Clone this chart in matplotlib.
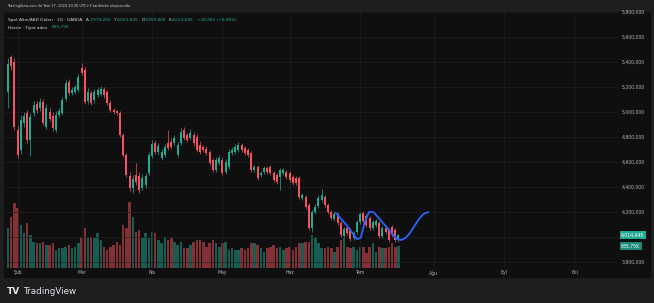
import matplotlib.pyplot as plt
from matplotlib.patches import Rectangle

# daily candles, prices in thousands (axis labels are shown x1000)
opens = [5160, 5440, 5400, 4856, 4696, 4912, 4992, 4776, 4992, 5064,
         5032, 5080, 4880, 5000, 4968, 4856, 4976, 4992, 5104, 5240,
         5152, 5160, 5176, 5352, 5336, 5088, 5152, 5096, 5136, 5144,
         5184, 5160, 5072, 5016, 5008, 4992, 4816, 4656, 4488, 4392,
         4496, 4488, 4392, 4416, 4512, 4648, 4752, 4680, 4632, 4656,
         4752, 4760, 4752, 4656, 4752, 4856, 4816, 4792, 4816, 4800,
         4736, 4720, 4704, 4680, 4616, 4536, 4592, 4616, 4520, 4560,
         4672, 4680, 4696, 4736, 4712, 4696, 4672, 4536, 4560, 4496,
         4520, 4552, 4560, 4512, 4496, 4480, 4512, 4520, 4512, 4480,
         4472, 4472, 4312, 4320, 4256, 4072, 4200, 4248, 4296, 4320,
         4256, 4200, 4144, 4184, 4112, 4008, 4072, 4056, 3992, 4040,
         4120, 4192, 4168, 4152, 4072, 4096, 4112, 4008, 4072, 4056,
         4080, 4056, 3979.265]
closes = [5384, 5368, 4880, 4656, 4936, 4968, 4776, 4960, 5056, 5016,
          5080, 4912, 5032, 4944, 4872, 4976, 5008, 5096, 5232, 5152,
          5176, 5200, 5280, 5312, 5080, 5160, 5072, 5160, 5176, 5184,
          5136, 5072, 5016, 5000, 4992, 4816, 4656, 4496, 4392, 4464,
          4440, 4376, 4472, 4488, 4656, 4744, 4680, 4728, 4680, 4720,
          4712, 4720, 4792, 4736, 4840, 4792, 4776, 4832, 4752, 4696,
          4680, 4696, 4672, 4592, 4536, 4616, 4632, 4512, 4600, 4680,
          4696, 4720, 4736, 4696, 4672, 4656, 4536, 4560, 4472, 4512,
          4552, 4520, 4512, 4456, 4440, 4536, 4536, 4480, 4456, 4432,
          4432, 4320, 4336, 4240, 4072, 4200, 4240, 4312, 4336, 4256,
          4200, 4152, 4184, 4112, 4016, 4064, 4032, 3984, 4032, 4120,
          4184, 4128, 4096, 4072, 4120, 4128, 4008, 4072, 4040, 3976,
          4016, 3975.68, 4014.645]
highs = [5432, 5456, 5432, 4896, 4976, 5000, 5016, 4992, 5088, 5088,
         5112, 5104, 5064, 5032, 5000, 5008, 5032, 5120, 5256, 5264,
         5200, 5216, 5304, 5392, 5360, 5192, 5176, 5184, 5200, 5208,
         5200, 5176, 5096, 5032, 5016, 5008, 4832, 4672, 4520, 4496,
         4592, 4520, 4504, 4512, 4680, 4776, 4776, 4752, 4704, 4744,
         4856, 4792, 4816, 4760, 4872, 4880, 4832, 4864, 4840, 4824,
         4768, 4736, 4728, 4696, 4632, 4640, 4656, 4640, 4624, 4704,
         4720, 4744, 4760, 4752, 4728, 4712, 4688, 4576, 4576, 4528,
         4568, 4568, 4576, 4528, 4512, 4552, 4552, 4536, 4528, 4496,
         4488, 4488, 4352, 4336, 4272, 4216, 4264, 4336, 4384, 4336,
         4272, 4216, 4208, 4200, 4128, 4080, 4088, 4072, 4048, 4136,
         4200, 4208, 4184, 4168, 4136, 4144, 4128, 4088, 4088, 4072,
         4096, 4072, 4023.835]
lows = [5032, 5336, 4856, 4632, 4664, 4880, 4752, 4648, 4968, 4992,
        5008, 4896, 4864, 4928, 4848, 4840, 4960, 4976, 5088, 5136,
        5136, 5144, 5160, 5296, 5064, 5064, 5056, 5072, 5120, 5128,
        5112, 5056, 5000, 4984, 4976, 4800, 4640, 4480, 4368, 4352,
        4416, 4352, 4376, 4392, 4496, 4632, 4664, 4656, 4616, 4640,
        4696, 4704, 4728, 4640, 4736, 4776, 4760, 4776, 4728, 4680,
        4664, 4680, 4656, 4576, 4520, 4520, 4576, 4496, 4504, 4544,
        4656, 4664, 4680, 4680, 4656, 4640, 4520, 4520, 4456, 4480,
        4504, 4504, 4496, 4440, 4424, 4376, 4496, 4464, 4440, 4416,
        4416, 4304, 4296, 4224, 4056, 4040, 4184, 4232, 4280, 4240,
        4184, 4136, 4128, 4096, 4000, 4000, 4016, 3968, 3976, 4024,
        4104, 4112, 4080, 4056, 4056, 4080, 3992, 3992, 4024, 3960,
        4000, 3960, 3959.8]
# volume in thousands
volumes = [1520, 1938, 2470, 2280, 1634, 1330, 1710, 1254, 988, 950,
           950, 988, 874, 874, 950, 684, 760, 760, 798, 874,
           760, 798, 950, 1178, 1520, 1178, 1178, 1140, 1330, 1064,
           798, 684, 798, 874, 988, 874, 1634, 1520, 2508, 1938,
           1368, 1444, 1140, 1330, 1140, 1368, 1330, 1064, 950, 1178,
           1064, 1140, 988, 874, 988, 760, 760, 874, 988, 1064,
           1064, 988, 798, 950, 1064, 950, 798, 950, 988, 684,
           760, 684, 684, 760, 684, 760, 950, 950, 874, 760,
           608, 760, 798, 874, 760, 798, 684, 760, 798, 684,
           798, 950, 950, 988, 988, 1254, 1178, 950, 760, 760,
           798, 760, 608, 798, 1064, 1140, 798, 760, 798, 684,
           798, 798, 570, 798, 950, 608, 798, 760, 760, 798,
           950, 798, 835.75]

# drawn path (bar index, price)
path_x = [102.5, 106, 109, 110.2, 111.5, 112.8, 114.2, 118, 121.5, 122.8,
          124.2, 125.6, 127, 128.4, 129.8, 131.4]
path_y = [4192, 4088, 3984, 3992, 4120, 4200, 4200, 4088, 3984, 3976,
          3992, 4032, 4088, 4144, 4184, 4200]

month_ticks = [3, 23, 45, 67, 88, 110, 133, 155, 177]
month_labels = ['Şub', 'Mar', 'Nis', 'May', 'Haz', 'Tem', 'Ağu', 'Eyl', 'Eki']
price_ticks = [3800, 4000, 4200, 4400, 4600, 4800, 5000, 5200, 5400, 5600, 5800]

UP = '#22ab94'
DOWN = '#f7525f'
BG = '#0f0f0f'
FRAME = '#1e1e1e'
TXT = '#b2b5be'
GRID = '#1f1f1f'

W, H = 654, 303
fig = plt.figure(figsize=(W / 100, H / 100), dpi=100)
fig.patch.set_facecolor(FRAME)
fig.add_artist(Rectangle((4 / W, 1 - 277 / H), 646 / W, 265 / H,
                         transform=fig.transFigure, color=BG, zorder=0))

rect = [4 / W, 1 - 268 / H, 614 / W, 256 / H]
ax_vol = fig.add_axes(rect)
ax = fig.add_axes(rect)
ax_vol.set_facecolor(BG)
ax.patch.set_visible(False)

n = len(opens)
xs = list(range(n))
colors = [UP if c >= o else DOWN for o, c in zip(opens, closes)]

# volume
ax_vol.bar(xs, volumes, width=0.8, color=colors, alpha=0.5, linewidth=0)
ax_vol.set_ylim(0, 835.75 * 256 / 22)
ax_vol.set_xlim(-1.25, 190.6)
ax_vol.axis('off')

# candles
ax.vlines(xs, lows, highs, colors=colors, linewidth=0.5)
bodies = [max(abs(c - o), 4) for o, c in zip(opens, closes)]
bottoms = [min(o, c) for o, c in zip(opens, closes)]
ax.bar(xs, bodies, bottom=bottoms, width=0.65, color=colors, linewidth=0)

ax.plot(path_x, path_y, color='#2962ff', linewidth=1.3, solid_capstyle='round',
        solid_joinstyle='round')

ax.set_xlim(-1.25, 190.6)
ax.set_ylim(3752, 5800)
ax.set_xticks(month_ticks)
ax.set_xticklabels(month_labels)
ax.set_yticks(price_ticks)
ax.set_yticklabels(['' if v == 4000 else f'{v * 1000:,}' for v in price_ticks])
ax.yaxis.tick_right()
ax.tick_params(axis='y', length=0, pad=2.9, labelsize=3.3, colors=TXT)
ax.tick_params(axis='x', length=0, pad=1.5, labelsize=3.3, colors=TXT)
for lbl in ax.get_yticklabels():
    lbl.set_horizontalalignment('left')
ax.grid(True, color=GRID, linewidth=0.5)
ax.set_axisbelow(True)
for s in ax.spines.values():
    s.set_visible(False)

# last value labels
ax.annotate(f'{closes[-1] * 1000:,.0f}', xy=(1, closes[-1]),
            xycoords=('axes fraction', 'data'), xytext=(2.2, 0),
            textcoords='offset points', ha='left', va='center', fontsize=3.3,
            color='white', annotation_clip=False,
            bbox=dict(boxstyle='square,pad=0.3', fc=UP, ec='none'))
ax_vol.annotate('835,75K', xy=(1, volumes[-1]), xycoords=('axes fraction', 'data'),
                xytext=(2.2, 0), textcoords='offset points', ha='left', va='center',
                fontsize=3.3, color='white', annotation_clip=False,
                bbox=dict(boxstyle='square,pad=0.3', fc='#1c8a7a', ec='none'))

# header texts
fig.text(7 / W, 1 - 6.5 / H,
         'TradingView.com ile Tem 17, 2024 20:35 UTC+3 tarihinde oluşturuldu',
         fontsize=2.5, color='#d1d4dc', va='center')

t = fig.text(8 / W, 1 - 20 / H, 'Spot Altın/ABD Doları · 1G · OANDA',
             fontsize=3.1, color='#d1d4dc', va='center')
parts = [('A', '#d1d4dc', 3.0), ('3,979,265', UP, 0.2), ('Y', '#d1d4dc', 2.0),
         ('4,023,835', UP, 0.2), ('D', '#d1d4dc', 2.0), ('3,959,800', UP, 0.2),
         ('K', '#d1d4dc', 2.0), ('4,014,645', UP, 0.2), ('+38,965 (+0,98%)', UP, 2.0)]
prev = t
for s, c, gap in parts:
    prev = ax.annotate(s, xy=(1, 0.5), xycoords=prev, xytext=(gap, 0),
                       textcoords='offset points', va='center', ha='left',
                       fontsize=3.1, color=c, annotation_clip=False)

t2 = fig.text(8 / W, 1 - 27.5 / H, 'Hacim · Fiyat adını', fontsize=3.1,
              color='#d1d4dc', va='center')
ax.annotate('835,75K', xy=(1, 0.5), xycoords=t2, xytext=(3, 0),
            textcoords='offset points', va='center', ha='left', fontsize=3.1,
            color=UP, annotation_clip=False)

# logo
fig.text(7 / W, 1 - 292 / H, 'TV', fontsize=6.5, fontweight='heavy',
         color='#e0e3eb', va='center')
fig.text(23 / W, 1 - 292 / H, 'TradingView', fontsize=6.3, color='#e0e3eb',
         va='center')

fig.savefig('out.png', dpi=100, facecolor=FRAME)
